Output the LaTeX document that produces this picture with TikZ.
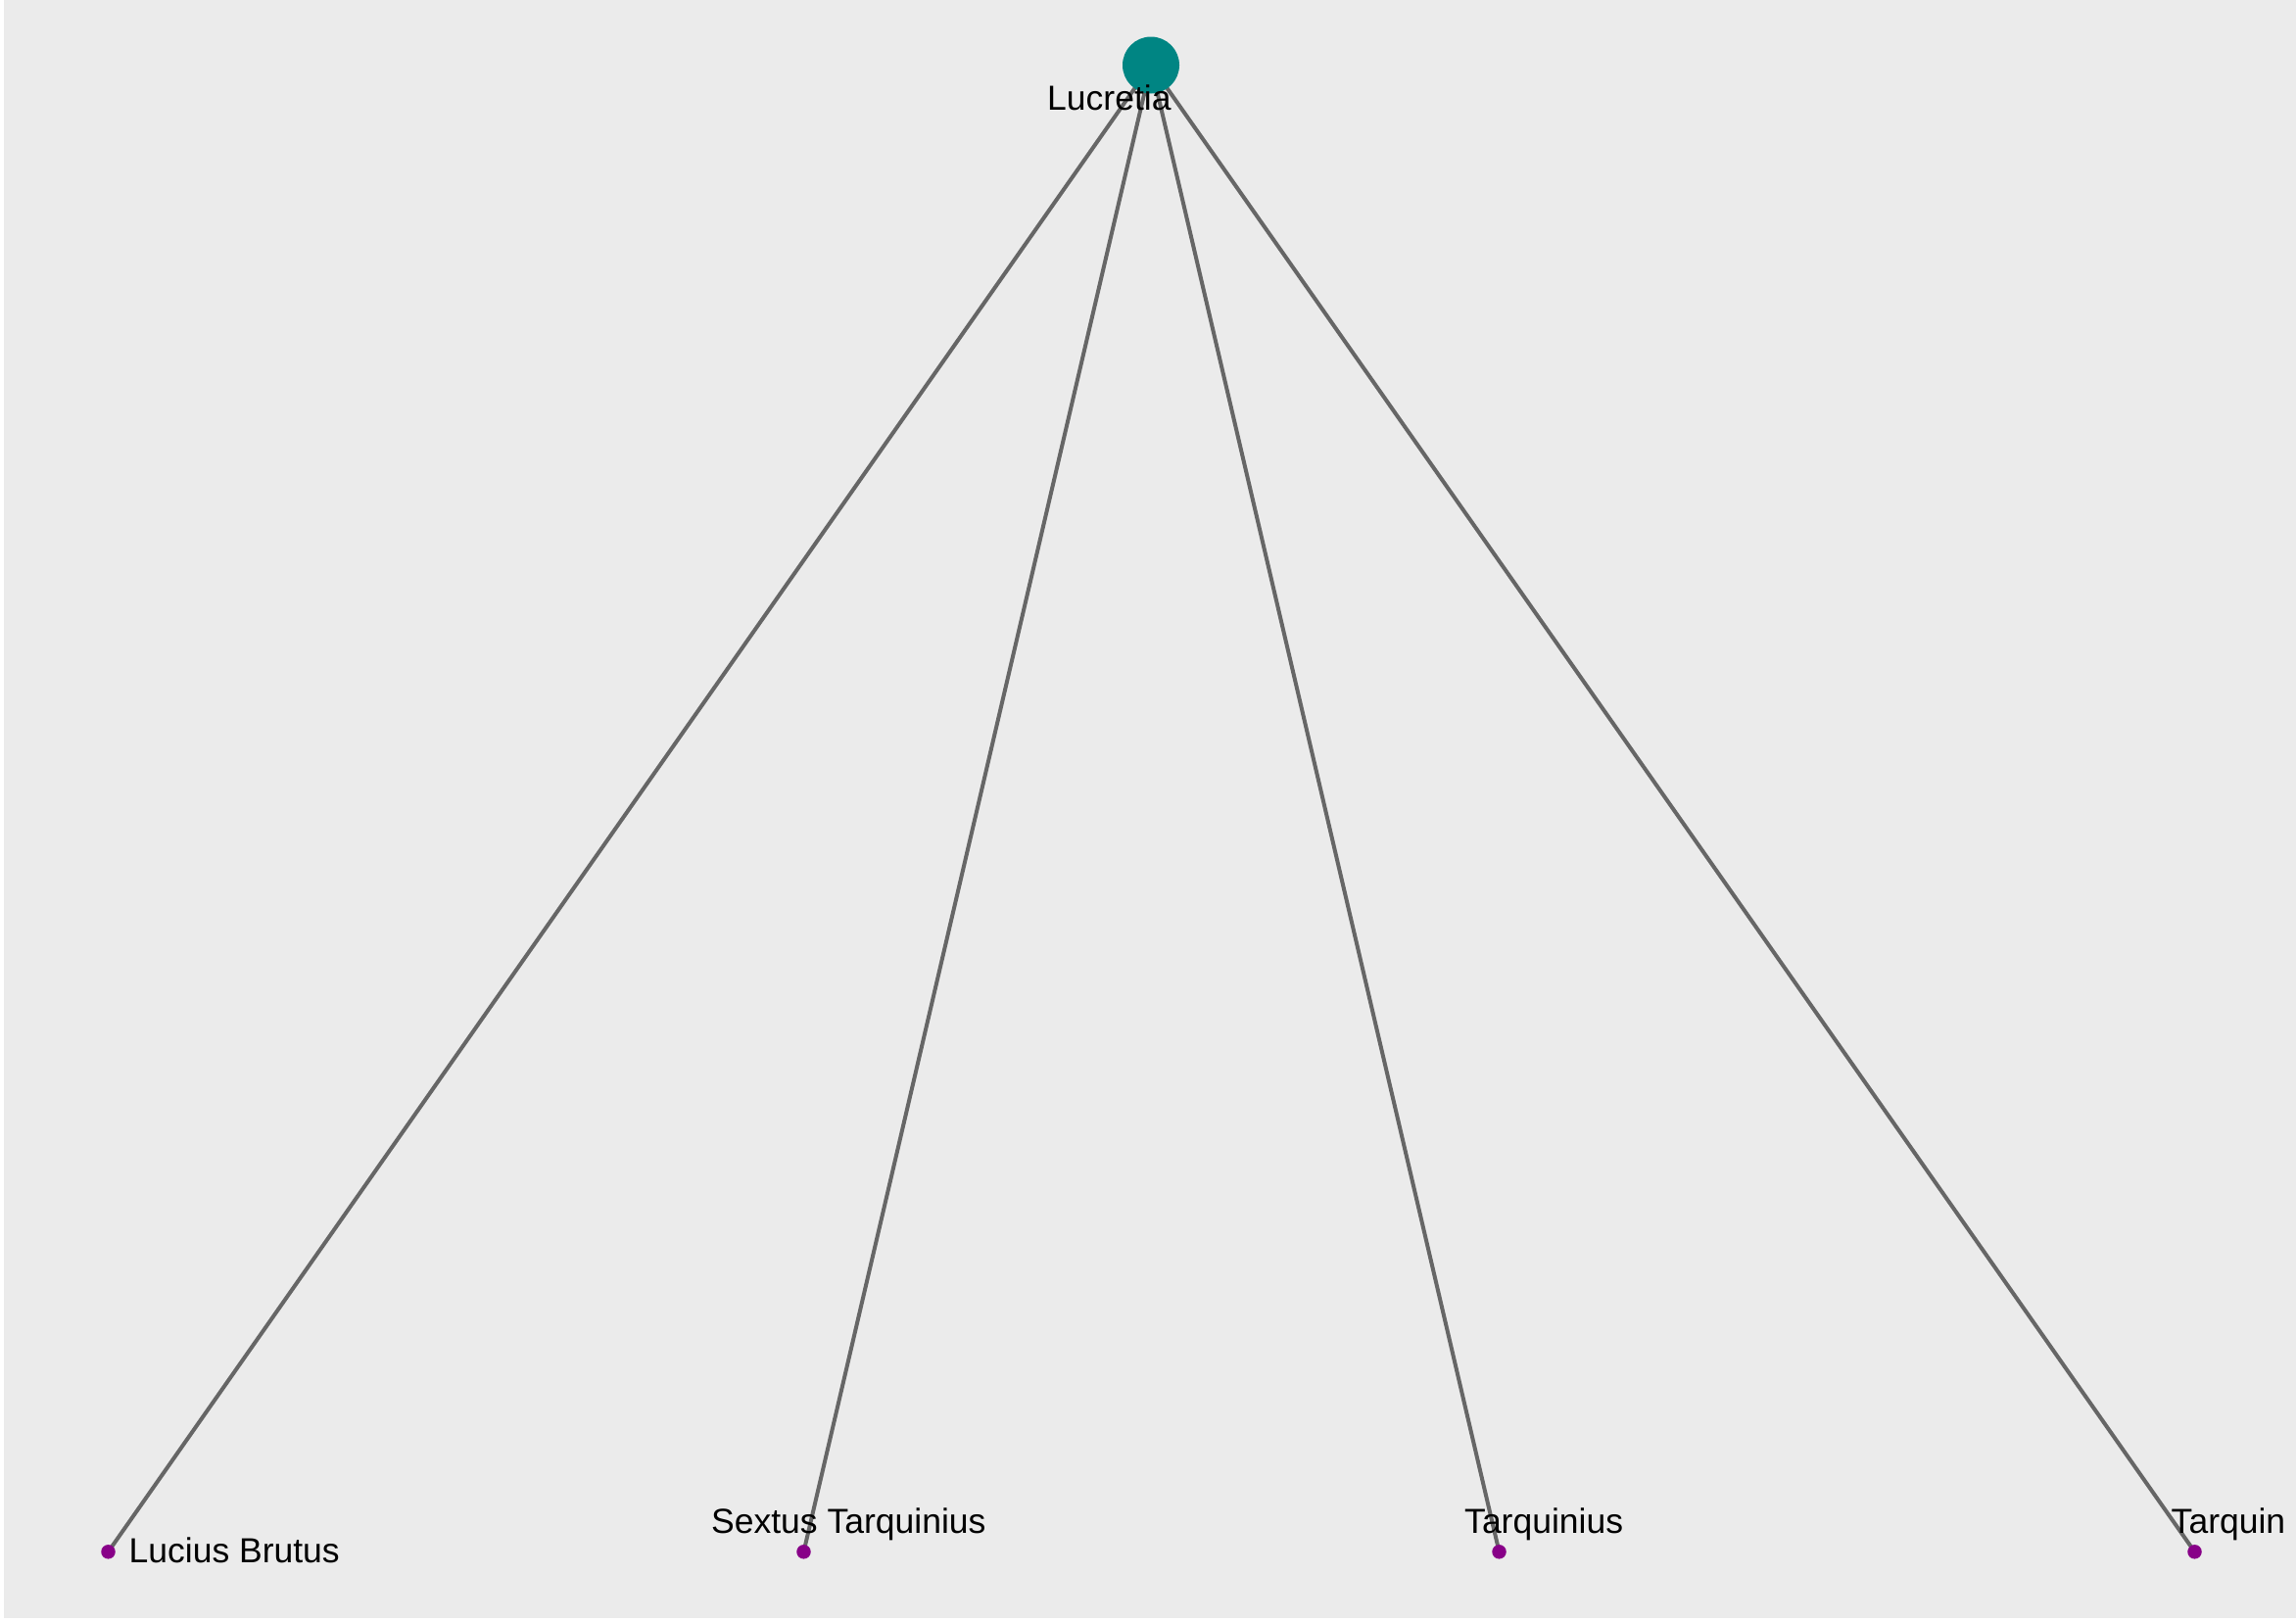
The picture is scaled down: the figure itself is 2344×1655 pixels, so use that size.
\documentclass[tikz,border=0pt]{standalone}
\usepackage{fontspec}
\setmainfont{Liberation Sans}
\definecolor{bgc}{HTML}{EBEBEB}
\definecolor{edgec}{HTML}{666666}
\definecolor{teal2}{HTML}{008583}
\definecolor{purp}{HTML}{880088}
\begin{document}
\begin{tikzpicture}[x=1pt,y=-1pt,
  edge/.style={draw=edgec,line width=4pt},
  hub/.style={circle,fill=teal2,minimum size=58pt,inner sep=0pt},
  leaf/.style={circle,fill=purp,minimum size=14.5pt,inner sep=0pt},
  lbl/.style={font=\fontsize{35.5}{42}\selectfont,text=black,inner sep=0pt,anchor=base west}]
\useasboundingbox (0,0) rectangle (2344,1655);
\fill[white] (0,0) rectangle (2344,1655);
\fill[bgc] (4,0) rectangle (2344,1652);
\coordinate (cL) at (1175,66.5);
\coordinate (c1) at (110.5,1584.3);
\coordinate (c2) at (820.5,1584.3);
\coordinate (c3) at (1530.5,1584.3);
\coordinate (c4) at (2240.5,1584.3);
\draw[edge] (cL) -- (c1);
\draw[edge] (cL) -- (c2);
\draw[edge] (cL) -- (c3);
\draw[edge] (cL) -- (c4);
\node[hub] (luc) at (cL) {};
\node[leaf] (lb) at (c1) {};
\node[leaf] (st) at (c2) {};
\node[leaf] (tq) at (c3) {};
\node[leaf] (tn) at (c4) {};
\node[lbl] (tluc) at (1069,112) {Lucretia};
\node[lbl] (tlb) at (131.5,1595.5) {Lucius Brutus};
\node[lbl] (tst) at (726,1565.5) {Sextus Tarquinius};
\node[lbl] (ttq) at (1495,1565.5) {Tarquinius};
\node[lbl] (ttn) at (2216.5,1565.5) {Tarquin};
\end{tikzpicture}
\end{document}
